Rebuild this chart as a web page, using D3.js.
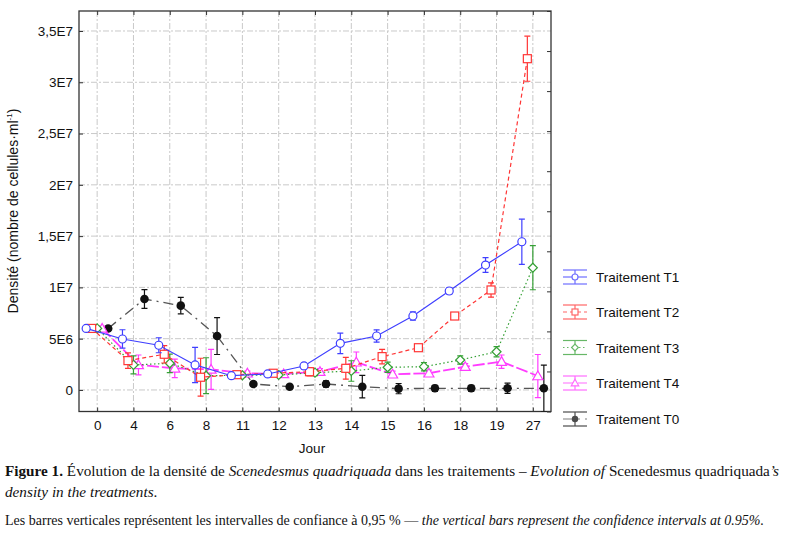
<!DOCTYPE html>
<html>
<head>
<meta charset="utf-8">
<script src="https://cdn.jsdelivr.net/npm/d3@7/dist/d3.min.js"></script>
<style>
  html, body { margin: 0; padding: 0; background: #fff; }
  svg { display: block; }
</style>
</head>
<body>
<svg id="chart" width="790" height="533"></svg>
<script>
// ---------------- DATA ----------------
const days = ["0","4","6","8","11","12","13","14","15","16","18","19","27"];
const yTickValues = [0, 5e6, 1e7, 1.5e7, 2e7, 2.5e7, 3e7, 3.5e7];
const yTickLabels = ["0", "5E6", "1E7", "1,5E7", "2E7", "2,5E7", "3E7", "3,5E7"];
const seriesNames = ["Traitement T1", "Traitement T2", "Traitement T3", "Traitement T4", "Traitement T0"];

const t1    = [6.0e6, 4.97e6, 4.36e6, 2.44e6, 1.39e6, 1.56e6, 2.34e6, 4.55e6, 5.26e6, 7.21e6, 9.65e6, 12.18e6, 14.45e6];
const t1Err = [0.2e6, 0.9e6, 0.73e6, 1.72e6, 0.2e6, 0.2e6, 0.3e6, 1.0e6, 0.6e6, 0.4e6, 0.3e6, 0.72e6, 2.2e6];
const t2    = [6.0e6, 2.86e6, 3.48e6, 1.24e6, 1.49e6, 1.63e6, 1.78e6, 2.11e6, 3.25e6, 4.12e6, 7.21e6, 9.75e6, 32.3e6];
const t2Err = [0.2e6, 0.75e6, 0.85e6, 1.85e6, 0.2e6, 0.2e6, 0.4e6, 1.06e6, 0.7e6, 0.2e6, 0.3e6, 0.7e6, 2.2e6];
const t3    = [6.0e6, 2.44e6, 2.6e6, 1.39e6, 1.43e6, 1.46e6, 1.69e6, 1.85e6, 2.21e6, 2.27e6, 2.92e6, 3.73e6, 11.92e6];
const t3Err = [0.2e6, 0.88e6, 0.9e6, 1.75e6, 0.2e6, 0.2e6, 0.3e6, 1.0e6, 0.5e6, 0.4e6, 0.4e6, 0.5e6, 2.15e6];
const t4    = [6.0e6, 2.44e6, 2.11e6, 2.0e6, 1.63e6, 1.56e6, 1.78e6, 2.7e6, 1.53e6, 1.63e6, 2.27e6, 2.76e6, 1.36e6];
const t4Err = [0.2e6, 0.97e6, 0.9e6, 1.95e6, 0.2e6, 0.2e6, 0.3e6, 1.0e6, 0.3e6, 0.3e6, 0.3e6, 0.65e6, 2.1e6];
const t0    = [6.0e6, 8.87e6, 8.22e6, 5.26e6, 0.58e6, 0.32e6, 0.58e6, 0.32e6, 0.13e6, 0.16e6, 0.16e6, 0.16e6, 0.16e6];
const t0Err = [0.2e6, 0.92e6, 0.8e6, 1.8e6, 0.2e6, 0.2e6, 0.3e6, 1.1e6, 0.5e6, 0.3e6, 0.3e6, 0.5e6, 2.27e6];

// ---------------- STYLE ----------------
const styles = [
  { values: t1, err: t1Err, color: "#3f3fff", line: "#3f3fff", dash: null,        width: 1.2, marker: "circle" },
  { values: t2, err: t2Err, color: "#ff3535", line: "#ff3535", dash: "4,3",       width: 1.2, marker: "square" },
  { values: t3, err: t3Err, color: "#35a035", line: "#35a035", dash: "1.5,2.5",   width: 1.2, marker: "diamond" },
  { values: t4, err: t4Err, color: "#ff3cff", line: "#ff3cff", dash: "12,3",      width: 1.8, marker: "triangle" },
  { values: t0, err: t0Err, color: "#111111", line: "#555555", dash: "10,5,2,5",  width: 1.3, marker: "dot" }
];
const offsets = [-11, -5.5, 0, 5, 11];

const L = 79, R = 551, T = 11, B = 411.5;
const svg = d3.select("#chart");
const font = "'Liberation Sans', Arial, sans-serif";

const x = d3.scalePoint().domain(days).range([L, R]).padding(0.5);
const y = d3.scaleLinear().domain([-2.1e6, 3.695e7]).range([B, T]);
const yRight = d3.scaleLinear().domain([0, 10]).range([B, T]);

svg.append("defs").append("clipPath").attr("id", "plotclip")
  .append("rect").attr("x", L).attr("y", T).attr("width", R - L).attr("height", B - T);

// Grid
const grid = svg.append("g");
grid.selectAll("line.h").data(yTickValues).join("line")
  .attr("x1", L).attr("x2", R).attr("y1", d => y(d)).attr("y2", d => y(d))
  .attr("stroke", "#c9c9c9").attr("stroke-width", 1).attr("stroke-dasharray", "6,2,2,2");
grid.selectAll("line.v").data(days).join("line")
  .attr("x1", d => x(d)).attr("x2", d => x(d)).attr("y1", T).attr("y2", B)
  .attr("stroke", "#c9c9c9").attr("stroke-width", 1).attr("stroke-dasharray", "6,2,2,2");

// Axes
const axisColor = "#333";
const gL = svg.append("g").attr("transform", `translate(${L},0)`)
  .call(d3.axisLeft(y).tickValues(yTickValues).tickFormat((d, i) => yTickLabels[i])
    .tickSizeInner(-4).tickSizeOuter(0).tickPadding(6));
const gB = svg.append("g").attr("transform", `translate(0,${B})`)
  .call(d3.axisBottom(x).tickSizeInner(-4).tickSizeOuter(0).tickPadding(9));
const gT = svg.append("g").attr("transform", `translate(0,${T})`)
  .call(d3.axisBottom(x).tickSizeInner(4).tickSizeOuter(0).tickFormat(""));
const gR = svg.append("g").attr("transform", `translate(${R},0)`)
  .call(d3.axisLeft(yRight).ticks(10).tickSizeInner(4).tickSizeOuter(0).tickFormat(""));
[gL, gB, gT, gR].forEach(g => {
  g.select(".domain").remove();
  g.selectAll(".tick line").attr("stroke", axisColor).attr("stroke-width", 1);
  g.selectAll("text").attr("font-family", font).attr("font-size", "13.5px").attr("fill", "#111");
});
svg.append("rect").attr("x", L).attr("y", T).attr("width", R - L).attr("height", B - T)
  .attr("fill", "none").attr("stroke", axisColor).attr("stroke-width", 1.3);

// Axis titles
svg.append("text").attr("x", 312).attr("y", 453).attr("text-anchor", "middle")
  .attr("font-family", font).attr("font-size", "13.5px").attr("fill", "#111").text("Jour");
const yt = svg.append("text").attr("transform", "translate(18,211) rotate(-90)")
  .attr("text-anchor", "middle").attr("font-family", font).attr("font-size", "14px").attr("fill", "#111");
yt.append("tspan").text("Densité (nombre de cellules·ml");
yt.append("tspan").attr("font-size", "8px").attr("dy", "-6").text("-1");
yt.append("tspan").attr("dy", "6").text(")");

// Marker drawing
function drawMarker(g, type, color, cx, cy, scale) {
  const s = scale || 1;
  if (type === "circle") {
    g.append("circle").attr("cx", cx).attr("cy", cy).attr("r", 4 * s)
      .attr("fill", "#fff").attr("stroke", color).attr("stroke-width", 1.2);
  } else if (type === "square") {
    g.append("rect").attr("x", cx - 4 * s).attr("y", cy - 4 * s).attr("width", 8 * s).attr("height", 8 * s)
      .attr("fill", "#fff").attr("stroke", color).attr("stroke-width", 1.2);
  } else if (type === "diamond") {
    const r = 4.5 * s;
    g.append("path").attr("d", `M${cx},${cy - r}L${cx + r},${cy}L${cx},${cy + r}L${cx - r},${cy}Z`)
      .attr("fill", "#fff").attr("stroke", color).attr("stroke-width", 1.2);
  } else if (type === "triangle") {
    const r = 5 * s;
    g.append("path").attr("d", `M${cx},${cy - r}L${cx + r},${cy + r * 0.75}L${cx - r},${cy + r * 0.75}Z`)
      .attr("fill", "#fff").attr("stroke", color).attr("stroke-width", 1.2);
  } else {
    g.append("circle").attr("cx", cx).attr("cy", cy).attr("r", 4.3 * s).attr("fill", color);
  }
}

// Series
const plot = svg.append("g").attr("clip-path", "url(#plotclip)");
const drawOrder = [4, 3, 2, 1, 0];
drawOrder.forEach(si => {
  const st = styles[si];
  const off = offsets[si];
  const g = plot.append("g");
  const pts = days.map((d, i) => ({ x: x(d) + off, v: st.values[i], e: st.err[i] }));
  g.append("path").datum(pts)
    .attr("d", d3.line().x(d => d.x).y(d => y(d.v)))
    .attr("fill", "none").attr("stroke", st.line).attr("stroke-width", st.width)
    .attr("stroke-dasharray", st.dash);
  pts.forEach(p => {
    const y1 = y(p.v + p.e), y2 = y(p.v - p.e);
    g.append("line").attr("x1", p.x).attr("x2", p.x).attr("y1", y1).attr("y2", y2)
      .attr("stroke", st.color).attr("stroke-width", 1.2);
    [y1, y2].forEach(yy => g.append("line").attr("x1", p.x - 3).attr("x2", p.x + 3)
      .attr("y1", yy).attr("y2", yy).attr("stroke", st.color).attr("stroke-width", 1.2));
  });
  pts.forEach(p => drawMarker(g, st.marker, st.color, p.x, y(p.v)));
});

// Legend
const legendY = [277, 312, 347.5, 383, 419];
seriesNames.forEach((name, i) => {
  const st = styles[i];
  const cy = legendY[i];
  const g = svg.append("g");
  const sym = g.append("g").attr("opacity", 0.75);
  sym.append("line").attr("x1", 563).attr("x2", 587).attr("y1", cy).attr("y2", cy)
    .attr("stroke", st.line).attr("stroke-width", 1.2).attr("stroke-dasharray", st.dash);
  [cy - 7, cy + 7].forEach(yy => sym.append("line").attr("x1", 563).attr("x2", 587)
    .attr("y1", yy).attr("y2", yy).attr("stroke", st.color).attr("stroke-width", 1.2));
  sym.append("line").attr("x1", 575).attr("x2", 575).attr("y1", cy - 7).attr("y2", cy + 7)
    .attr("stroke", st.color).attr("stroke-width", 1.2);
  drawMarker(sym, st.marker, st.color, 575, cy, 0.75);
  g.append("text").attr("x", 596).attr("y", cy + 5).attr("font-family", font)
    .attr("font-size", "13.5px").attr("fill", "#111").text(name);
});

// Caption
const serif = "'Liberation Serif', 'Times New Roman', serif";
function captionLine(yPos, parts, targetWidth, sxFixed) {
  const t = svg.append("text").attr("x", 0).attr("y", 0)
    .attr("font-family", serif).attr("font-size", "14.5px").attr("fill", "#111");
  parts.forEach(p => {
    const ts = t.append("tspan").text(p.t);
    if (p.b) ts.attr("font-weight", "bold");
    if (p.i) ts.attr("font-style", "italic");
  });
  const w = t.node().getComputedTextLength();
  const sx = sxFixed || (targetWidth / w);
  t.attr("transform", `translate(5,${yPos}) scale(${sx},1)`);
  return sx;
}
const sx1 = captionLine(476, [
  { t: "Figure 1.", b: true },
  { t: " Évolution de la densité de " },
  { t: "Scenedesmus quadriquada", i: true },
  { t: " dans les traitements  – " },
  { t: "Evolution of", i: true },
  { t: " Scenedesmus quadriquada" },
  { t: "’s", i: true }
], 774);
captionLine(497, [
  { t: "density in the treatments", i: true },
  { t: "." }
], 0, sx1);
captionLine(525, [
  { t: "Les barres verticales représentent les intervalles de confiance à 0,95 % — " },
  { t: "the vertical bars represent the confidence intervals at 0.95%.", i: true }
], 760);
</script>
</body>
</html>
